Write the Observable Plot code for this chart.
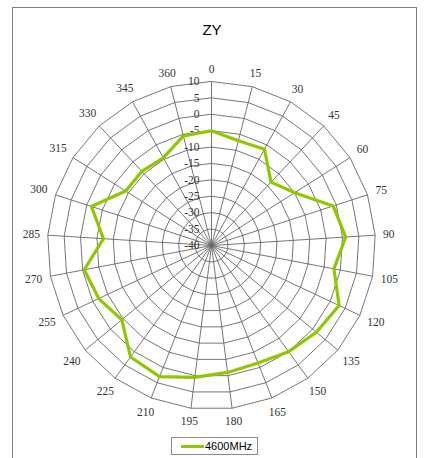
<!DOCTYPE html>
<html>
<head>
<meta charset="utf-8">
<script src="https://cdn.jsdelivr.net/npm/d3@7"></script>
<script src="https://cdn.jsdelivr.net/npm/@observablehq/plot@0.6"></script>
<style>
  html, body { margin: 0; padding: 0; background: #fff; }
  body { width: 424px; height: 458px; overflow: hidden; position: relative; }
  #frame { position: absolute; left: 12px; top: 7px; width: 405px; height: 480px;
           border: 1.5px solid #808080; box-sizing: border-box; }
  #title { position: absolute; top: 21px; left: 0; width: 424px; text-align: center;
           font-family: "Liberation Sans", Arial, sans-serif; font-size: 15px; color: #000; }
  #chart { position: absolute; top: 45px; left: 0; }
  #legend { position: absolute; left: 171px; top: 437px; width: 87px; height: 18px;
            border: 1px solid #8a8a8a; box-sizing: border-box; display: flex; align-items: center;
            font-family: "Liberation Sans", Arial, sans-serif; font-size: 11px; color: #000; background: #fff; }
  #legend .sw { width: 23px; height: 3px; margin-left: 9px; margin-right: 1px; }
</style>
</head>
<body>
<div id="frame"></div>
<div id="title">ZY</div>
<div id="chart"></div>
<div id="legend"><span class="sw"></span><span id="legtext"></span></div>
<script>
// ---- data ----
const seriesName = "4600MHz";
const categories = ["0","15","30","45","60","75","90","105","120","135","150","165","180",
                    "195","210","225","240","255","270","285","300","315","330","345","360"];
const values = [-5, -7, -6.5, -13.5, -10, -1, 1, -2, 3, 1.5, 0, -1.5, -1,
                0.5, 3, 2, -4.5, -2, -0.5, -7, -1.5, -9, -9, -9.5, -5.5];
const ticks = [-40, -35, -30, -25, -20, -15, -10, -5, 0, 5, 10];

// ---- styles ----
const green = "#8fc800";
const gridColor = "#666";
const rMin = ticks[0], rMax = ticks[ticks.length - 1];
const span = rMax - rMin;
const pxPerUnit = 164 / span;
const cx = 211, cy = 200;

const n = categories.length;
const ang = i => i * 2 * Math.PI / n;
const px = (r, i) => r * Math.sin(ang(i));
const py = (r, i) => r * Math.cos(ang(i));

const rings = ticks.filter(t => t > rMin).flatMap(t => categories.map((c, i) => ({t, i})));
const pts = values.map((v, i) => ({v, i}));
const cats = categories.map((c, i) => ({c, i}));

function labelR(d) {
  const hw = d.c.length * 3.1, hh = 5;
  const extra = 7 + Math.abs(Math.sin(ang(d.i))) * hw + Math.abs(Math.cos(ang(d.i))) * hh;
  return span + extra / pxPerUnit;
}

const chart = Plot.plot({
  width: 424,
  height: 385,
  margin: 0,
  x: {domain: [-span, span], range: [cx - 164, cx + 164], axis: null},
  y: {domain: [-span, span], range: [cy + 164, cy - 164], axis: null},
  style: {background: "transparent", overflow: "visible"},
  marks: [
    Plot.line(rings, {x: d => px(d.t - rMin, d.i), y: d => py(d.t - rMin, d.i), z: "t",
      curve: "linear-closed", stroke: gridColor, strokeWidth: 0.9}),
    Plot.link(cats, {x1: 0, y1: 0, x2: d => px(span, d.i), y2: d => py(span, d.i),
      stroke: gridColor, strokeWidth: 0.9}),
    Plot.text(ticks, {x: 0, y: t => t - rMin, text: t => String(t), textAnchor: "end", dx: -12,
      fontFamily: "Liberation Serif, Times New Roman, serif", fontSize: 11.5, fill: "#333"}),
    Plot.text(cats, {x: d => px(labelR(d), d.i), y: d => py(labelR(d), d.i), text: "c",
      textAnchor: "middle", fontFamily: "Liberation Serif, Times New Roman, serif", fontSize: 11.5, fill: "#333"}),
    Plot.line(pts, {x: d => px(d.v - rMin, d.i), y: d => py(d.v - rMin, d.i),
      curve: "linear-closed", stroke: green, strokeWidth: 3.2, strokeLinejoin: "miter"})
  ]
});
document.getElementById("chart").appendChild(chart);
document.querySelector("#legend .sw").style.background = green;
document.getElementById("legtext").textContent = seriesName;
</script>
</body>
</html>
